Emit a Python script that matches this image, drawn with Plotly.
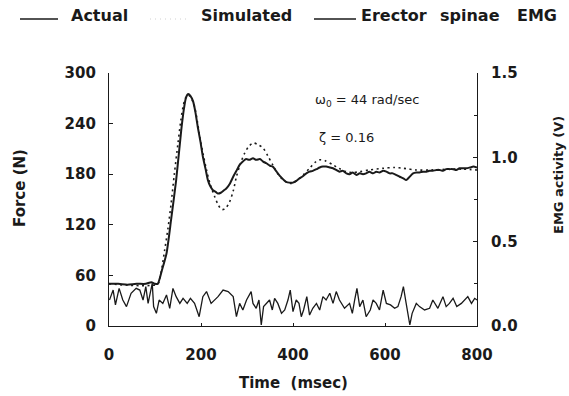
import plotly.graph_objects as go

# Force traces (N) vs time (msec)
t_actual = [0, 20, 40, 60, 80, 92, 100, 106, 115, 125, 135, 146, 157, 163, 167, 172, 177, 183,
            188, 193, 199, 204, 210, 215, 220, 226, 232, 237, 243, 250, 255, 262, 270, 277, 284,
            291, 298, 305, 313, 320, 328, 335, 342, 350, 356, 363, 370, 375, 380, 385, 392, 400,
            407, 414, 420, 429, 436, 443, 451, 458, 465, 472, 480, 487, 494, 501, 508, 516, 523,
            530, 538, 545, 552, 559, 566, 574, 581, 588, 596, 603, 610, 617, 625, 632, 640, 646,
            652, 661, 668, 675, 683, 690, 697, 704, 712, 719, 726, 733, 740, 748, 755, 762, 770,
            777, 785, 792, 800]
f_actual = [50, 50, 49, 50, 50, 52, 50, 50, 66, 86, 126, 173, 232, 258, 270, 275, 273, 266,
            253, 236, 218, 201, 186, 173, 166, 161, 159, 157, 158, 161, 163, 168, 177, 184, 191,
            195, 198, 197, 199, 197, 198, 195, 193, 190, 189, 184, 179, 176, 173, 171, 170, 170,
            172, 175, 177, 181, 183, 184, 186, 188, 189, 189, 188, 187, 185, 183, 184, 181, 180,
            182, 179, 181, 180, 181, 183, 181, 183, 182, 184, 183, 181, 181, 179, 177, 175, 173,
            176, 181, 182, 182, 183, 183, 184, 184, 185, 185, 184, 186, 186, 186, 185, 187, 187,
            187, 188, 189, 188]

t_sim = [0, 106, 112, 121, 128, 135, 142, 150, 156, 161, 166, 172, 178, 186, 192, 197, 205, 212,
         220, 230, 238, 246, 254, 262, 270, 277, 286, 295, 304, 314, 324, 335, 345, 356, 365,
         375, 385, 396, 408, 422, 436, 448, 458, 470, 487, 500, 516, 530, 545, 565, 596, 620,
         640, 668, 700, 740, 770, 800]
f_sim = [50, 50, 60, 90, 115, 145, 180, 217, 243, 260, 270, 274, 271, 260, 243, 225, 203, 185,
         168, 153, 143, 138, 140, 147, 160, 177, 193, 205, 213, 217, 215, 211, 202, 191, 182,
         175, 171, 169, 172, 179, 187, 194, 197, 196, 191, 187, 183, 182, 183, 185, 187, 188,
         187, 185, 185, 186, 186, 185]

# Erector spinae EMG (V)
t_emg = [1, 9, 14, 22, 30, 38, 48, 59, 67, 74, 80, 85, 88, 94, 97, 103, 109, 117, 125, 132,
         139, 146, 154, 161, 170, 177, 186, 196, 204, 212, 222, 237, 248, 259, 270, 277, 284,
         291, 299, 309, 313, 320, 326, 331, 336, 342, 349, 355, 360, 367, 375, 382, 389, 394,
         400, 407, 413, 418, 423, 430, 436, 443, 451, 458, 465, 472, 480, 487, 494, 501, 512,
         523, 529, 534, 539, 545, 552, 559, 568, 574, 581, 588, 596, 603, 612, 621, 628, 635,
         640, 646, 654, 659, 668, 675, 686, 697, 704, 715, 726, 733, 740, 748, 756, 766, 773,
         780, 788, 795, 800]
v_emg = [0.154, 0.213, 0.125, 0.223, 0.154, 0.115, 0.194, 0.223, 0.213, 0.154, 0.233, 0.134,
         0.174, 0.253, 0.115, 0.075, 0.154, 0.134, 0.184, 0.105, 0.223, 0.174, 0.134, 0.164,
         0.134, 0.164, 0.134, 0.055, 0.174, 0.204, 0.134, 0.174, 0.213, 0.204, 0.174, 0.055,
         0.134, 0.095, 0.154, 0.204, 0.134, 0.105, 0.154, 0.006, 0.115, 0.134, 0.154, 0.095,
         0.164, 0.134, 0.075, 0.095, 0.154, 0.213, 0.085, 0.154, 0.134, 0.055, 0.095, 0.174,
         0.065, 0.105, 0.134, 0.095, 0.174, 0.154, 0.194, 0.134, 0.204, 0.154, 0.105, 0.134,
         0.075, 0.154, 0.223, 0.115, 0.154, 0.055, 0.095, 0.154, 0.134, 0.095, 0.213, 0.134,
         0.125, 0.105, 0.115, 0.174, 0.233, 0.134, 0.006, 0.075, 0.134, 0.115, 0.095, 0.105,
         0.154, 0.105, 0.174, 0.115, 0.134, 0.164, 0.115, 0.134, 0.154, 0.174, 0.134, 0.164,
         0.154]

force_ticks = [0, 60, 120, 180, 240, 300]
emg_ticks = [0.0, 0.5, 1.0, 1.5]
time_ticks = [0, 200, 400, 600, 800]

INK = "#1a1a1a"
FONT = "DejaVu Sans"

# plot area in pixels
L, R, T, B = 109, 92, 73, 70
W, H = 569, 396
PW, PH = W - L - R, H - T - B


def px(x):
    return (x - L) / PW


def py(y):
    return (H - B - y) / PH


fig = go.Figure()
fig.add_trace(go.Scatter(x=t_emg, y=v_emg, mode="lines", yaxis="y2",
                         line=dict(color=INK, width=1.3), showlegend=False))
fig.add_trace(go.Scatter(x=t_sim, y=f_sim, mode="lines", line_shape="spline",
                         line=dict(color=INK, width=1.6, dash="2px,3.5px", smoothing=0.8),
                         showlegend=False))
fig.add_trace(go.Scatter(x=t_actual, y=f_actual, mode="lines", line_shape="spline",
                         line=dict(color=INK, width=2, smoothing=0.6), showlegend=False))

tickfont = dict(family=FONT, size=15, color=INK, weight="bold")

fig.update_layout(
    width=W, height=H,
    margin=dict(l=L, r=R, t=T, b=B),
    paper_bgcolor="white", plot_bgcolor="white",
    xaxis=dict(range=[0, 800], tickvals=time_ticks, ticktext=[str(v) for v in time_ticks],
               showgrid=False, zeroline=False, showline=True, linecolor=INK, linewidth=1.2,
               ticks="inside", ticklen=3, tickcolor=INK, tickfont=tickfont,
               ticklabelstandoff=15),
    yaxis=dict(range=[0, 300], tickvals=force_ticks, ticktext=[str(v) for v in force_ticks],
               showgrid=False, zeroline=False, showline=True, linecolor=INK, linewidth=1.2,
               ticks="inside", ticklen=4, tickcolor=INK, tickfont=tickfont,
               ticklabelstandoff=9),
    yaxis2=dict(range=[0, 1.5], overlaying="y", side="right",
                tickvals=emg_ticks, ticktext=[f"{v:.1f}" for v in emg_ticks],
                showgrid=False, zeroline=False, showline=True, linecolor=INK, linewidth=1.2,
                ticks="inside", ticklen=4, tickcolor=INK, tickfont=tickfont,
                ticklabelstandoff=10,
                minor=dict(dtick=0.25, ticks="inside", ticklen=3, tickcolor=INK)),
)

titlefont = dict(family=FONT, size=15, color=INK, weight="bold")
legfont = dict(family=FONT, size=16, color=INK, weight="bold")
ann = [
    dict(text="Force (N)", x=px(20), y=py(188), textangle=-90, font=titlefont),
    dict(text="EMG activity (V)", x=px(558), y=py(175), textangle=-90,
         font=dict(family=FONT, size=13, color=INK, weight="bold")),
    dict(text="Time\u00a0\u00a0(msec)", x=px(293.5), y=py(383), font=titlefont),
    dict(text="\u03c9<sub>0</sub> = 44 rad/sec", x=px(313), y=py(100), xanchor="left",
         font=dict(family=FONT, size=13, color=INK)),
    dict(text="\u03b6 = 0.16", x=px(317), y=py(137), xanchor="left",
         font=dict(family=FONT, size=13, color=INK)),
    dict(text="Actual", x=px(69), y=py(16), xanchor="left", font=legfont),
    dict(text="Simulated", x=px(199), y=py(16), xanchor="left", font=legfont),
    dict(text="Erector", x=px(359), y=py(16), xanchor="left", font=legfont),
    dict(text="spinae", x=px(438), y=py(16), xanchor="left", font=legfont),
    dict(text="EMG", x=px(515), y=py(16), xanchor="left", font=legfont),
]
for a in ann:
    a.setdefault("xanchor", "center")
    fig.add_annotation(xref="paper", yref="paper", yanchor="middle", showarrow=False, **a)

# legend line samples
fig.add_shape(type="line", xref="paper", yref="paper", x0=px(20), x1=px(58), y0=py(19), y1=py(19),
              line=dict(color=INK, width=1.3))
fig.add_shape(type="line", xref="paper", yref="paper", x0=px(150), x1=px(186), y0=py(19), y1=py(19),
              line=dict(color="#d0d0d0", width=1, dash="1px,4px"))
fig.add_shape(type="line", xref="paper", yref="paper", x0=px(314), x1=px(356), y0=py(19), y1=py(19),
              line=dict(color=INK, width=1.3))

fig.write_html("out.html")
